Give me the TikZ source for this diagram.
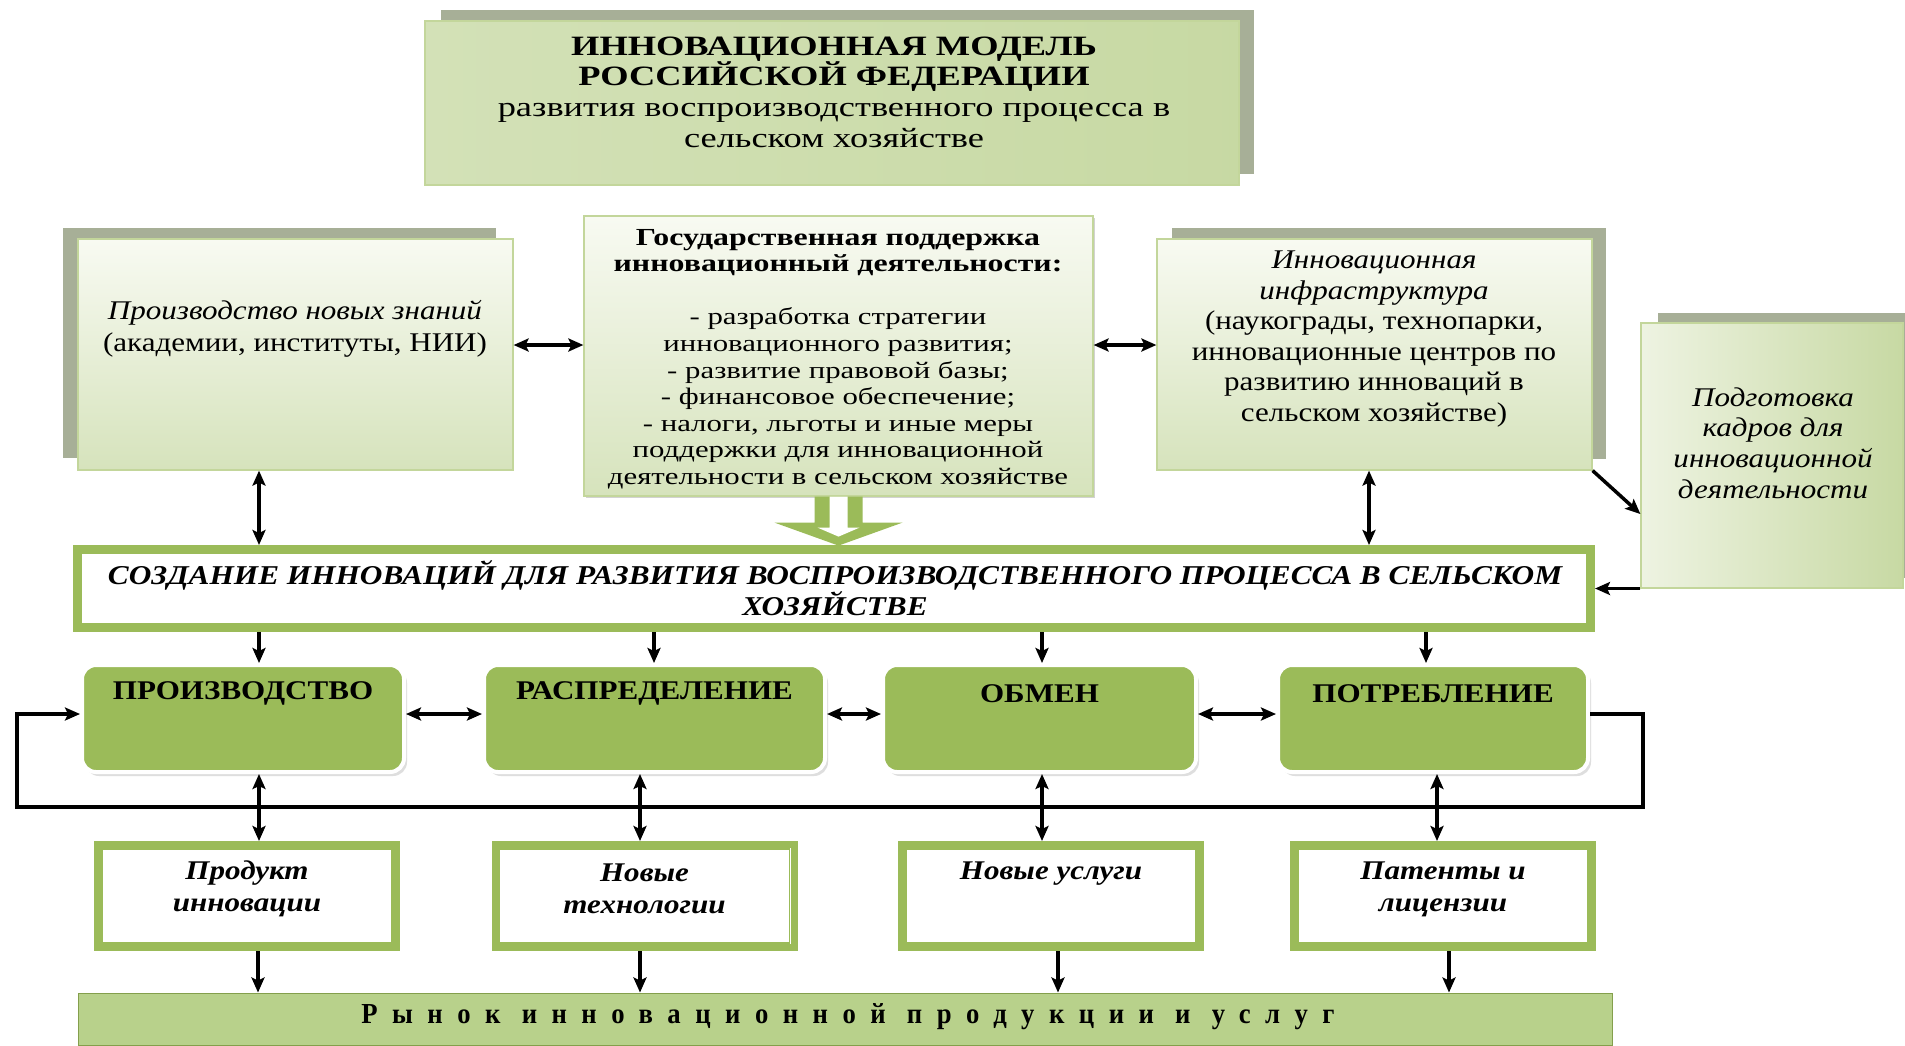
\documentclass[tikz,border=0pt]{standalone}
\usepackage{fontspec}
\setmainfont[FakeStretch=1.15]{Liberation Serif}
\newfontfamily\widefont[FakeStretch=1.3]{Liberation Serif}
\newfontfamily\narrowfont[FakeStretch=0.92]{Liberation Serif}
\usetikzlibrary{arrows.meta,shadows,calc}
\definecolor{gshadow}{HTML}{A7AF97}
\definecolor{gborder}{HTML}{C3D69B}
\definecolor{gmain}{HTML}{9BBB59}
\definecolor{glight}{HTML}{D6E3BC}
\definecolor{gpale}{HTML}{F8FAF2}
\definecolor{gbar}{HTML}{B8D18B}
\definecolor{gbardark}{HTML}{9DBC5C}
\begin{document}
\begin{tikzpicture}[x=1pt,y=-1pt,
  txt/.style={inner sep=0pt, align=center},
  tbox/.style={draw=gborder, line width=1.2pt, top color=gpale, bottom color=glight, inner sep=0pt},
  titlebox/.style={draw=gborder, line width=1.2pt, left color=glight!95!gmain, middle color=gpale!80!glight, right color=glight!75!gmain, inner sep=0pt},
  pbox/.style={draw=gborder, line width=1.2pt, left color=gpale!70!glight, right color=glight!75!gmain, inner sep=0pt},
  frame/.style={draw=gmain, line width=7pt, fill=white, inner sep=0pt},
  procbox/.style={fill=gmain, draw=white, line width=4pt, rounded corners=14pt, inner sep=0pt,
     drop shadow={shadow xshift=3pt, shadow yshift=-4pt, fill=black!25}},
  mbar/.style={draw=gmain!85!black, line width=1pt, top color=gbar, middle color=gbardark, bottom color=gbar, inner sep=0pt},
  arr/.style={line width=3.5pt, -{Stealth[length=15pt,width=13pt,inset=3pt]}},
  darr/.style={line width=3.5pt, {Stealth[length=15pt,width=13pt,inset=3pt]}-{Stealth[length=15pt,width=13pt,inset=3pt]}},
  ptitle/.style={txt, font=\bfseries\fontsize{27}{31}\selectfont},
  otxt/.style={txt, font=\bfseries\itshape\fontsize{27}{32}\selectfont}
]
\useasboundingbox (0,0) rectangle (1905,1045);
\fill[white] (0,0) rectangle (1905,1045);

% coordinates for vertical arrows
\coordinate (a1) at (259,0);
\coordinate (a2) at (654,0);
\coordinate (a3) at (1042,0);
\coordinate (a4) at (1426,0);
\coordinate (a5) at (1369,0);
\coordinate (b1) at (259,0);
\coordinate (b2) at (640,0);
\coordinate (b3) at (1042,0);
\coordinate (b4) at (1437,0);
\coordinate (c1) at (258,0);
\coordinate (c2) at (640,0);
\coordinate (c3) at (1058,0);
\coordinate (c4) at (1449,0);
\coordinate (lr) at (1643,807);
\coordinate (ll) at (17,807);

% title
\fill[gshadow] (441,10) rectangle (1254,174);
\node[titlebox, minimum width=814pt, minimum height=164pt] (tb) at (832,103) {};
\node[txt, font=\widefont\fontsize{28}{30.7}\selectfont] (tbt) at (834,92)
  {\textbf{ИННОВАЦИОННАЯ МОДЕЛЬ}\\\textbf{РОССИЙСКОЙ ФЕДЕРАЦИИ}\\развития воспроизводственного процесса в\\сельском хозяйстве};

% left box
\fill[gshadow] (63,228) rectangle (496,458);
\node[tbox, minimum width=435pt, minimum height=231pt] (lb) at (295.5,354.5) {};
\node[txt, font=\fontsize{27}{31.6}\selectfont] (lbt) at (295,329)
  {\textit{Производство новых знаний}\\(академии, институты, НИИ)};

% center box
\node[tbox, minimum width=509pt, minimum height=280pt,
  drop shadow={shadow xshift=2pt, shadow yshift=-2pt, fill=black!35}] (cb) at (838.5,356) {};
\node[txt, font=\widefont\fontsize{23.7}{26.6}\selectfont] (cbt) at (838,359)
  {{\fontsize{24.5}{26.6}\selectfont\textbf{Государственная поддержка}}\\{\fontsize{24.5}{26.6}\selectfont\textbf{инновационный деятельности:}}\\[26.6pt]
   - разработка стратегии\\инновационного развития;\\- развитие правовой базы;\\
   - финансовое обеспечение;\\- налоги, льготы и иные меры\\поддержки для инновационной\\
   деятельности в сельском хозяйстве};

% right box
\fill[gshadow] (1172,228) rectangle (1606,459);
\node[tbox, minimum width=435pt, minimum height=231pt] (rb) at (1374.5,354.5) {};
\node[txt, font=\fontsize{27}{30.6}\selectfont] (rbt) at (1374,339)
  {\textit{Инновационная}\\\textit{инфраструктура}\\(наукограды, технопарки,\\инновационные центров по\\развитию инноваций в\\сельском хозяйстве)};

% training box
\fill[gshadow] (1658,313) rectangle (1905,578);
\node[pbox, minimum width=262pt, minimum height=265pt] (pb) at (1772,455.5) {};
\node[txt, font=\itshape\fontsize{27}{30.7}\selectfont] (pbt) at (1773,443)
  {Подготовка\\кадров для\\инновационной\\деятельности};

% block arrow from the support box
\fill[gmain] ([xshift=-24pt]cb.south) -- ++(48,0) -- ++(0,26) -- ++(40,0) -- ++(-64,23) -- ++(-64,-23) -- ++(40,0) -- cycle;
\fill[white] ([xshift=-9pt]cb.south) -- ++(18,0) -- ++(0,31) -- ++(12,0) -- ++(-21,9) -- ++(-21,-9) -- ++(12,0) -- cycle;

% creation box
\node[frame, minimum width=1515pt, minimum height=80pt] (crea) at (834,588.5) {};
\draw[gmain, line width=1.5pt] ([shift={(8,8)}]crea.north west) rectangle ([shift={(-8,-8)}]crea.south east);
\node[txt, font=\bfseries\itshape\fontsize{27.2}{31}\selectfont] (creat) at (835,588)
  {СОЗДАНИЕ ИННОВАЦИЙ ДЛЯ РАЗВИТИЯ ВОСПРОИЗВОДСТВЕННОГО ПРОЦЕССА В СЕЛЬСКОМ\\ХОЗЯЙСТВЕ};

% process boxes
\node[procbox, minimum width=322pt, minimum height=107pt] (pr1) at (243,718.5) {};
\node[procbox, minimum width=341pt, minimum height=107pt] (pr2) at (654.5,718.5) {};
\node[procbox, minimum width=313pt, minimum height=107pt] (pr3) at (1039.5,718.5) {};
\node[procbox, minimum width=310pt, minimum height=107pt] (pr4) at (1433,718.5) {};
\node[ptitle] (pr1t) at ([yshift=25pt]pr1.center) {ПРОИЗВОДСТВО};
\node[ptitle] (pr2t) at ([yshift=25pt]pr2.center) {РАСПРЕДЕЛЕНИЕ};
\node[ptitle] (pr3t) at ([yshift=25pt]pr3.center) {ОБМЕН};
\node[ptitle] (pr4t) at ([yshift=25pt]pr4.center) {ПОТРЕБЛЕНИЕ};

% output boxes
\foreach \n/\cx in {1/247,2/644.5,3/1051,4/1443}{
  \node[frame, minimum width=299pt, minimum height=103pt] (out\n) at (\cx,896) {};
  \draw[gmain, line width=1.5pt] ([shift={(8,8)}]out\n.north west) rectangle ([shift={(-8,-8)}]out\n.south east);
}
\node[otxt] (o1t) at ([yshift=7pt]out1.center) {Продукт\\инновации};
\node[otxt] (o2t) at ([yshift=7pt]out2.center) {Новые\\технологии};
\node[otxt] (o3t) at ([yshift=22pt]out3.center) {Новые услуги};
\node[otxt] (o4t) at ([yshift=7pt]out4.center) {Патенты и\\лицензии};

% market bar
\node[mbar, minimum width=1534pt, minimum height=52pt] (mk) at (845,1019) {};
\node[txt, font=\narrowfont\bfseries\fontsize{29}{32}\selectfont\addfontfeature{LetterSpace=50}] (mkt) at (848,1017)
  {Рынок инновационной продукции и услуг};

% connectors
\draw[darr] ([yshift=9.5pt]lb.east) -- ([yshift=9.5pt]lb.east -| cb.west);
\draw[darr] ([yshift=9.5pt]rb.west -| cb.east) -- ([yshift=9.5pt]rb.west);
\draw[darr] (lb.south -| a1) -- (crea.north -| a1);
\draw[darr] (rb.south -| a5) -- (crea.north -| a5);
\draw[arr] (rb.south east) -- ([yshift=-58.5pt]pb.west);
\draw[arr] (pb.south west |- crea.east) -- (crea.east);
\draw[arr] (crea.south -| a1) -- (pr1.north -| a1);
\draw[arr] (crea.south -| a2) -- (pr2.north -| a2);
\draw[arr] (crea.south -| a3) -- (pr3.north -| a3);
\draw[arr] (crea.south -| a4) -- (pr4.north -| a4);
\draw[darr] ([yshift=4.5pt]pr1.east) -- ([yshift=4.5pt]pr2.west);
\draw[darr] ([yshift=4.5pt]pr2.east) -- ([yshift=4.5pt]pr3.west);
\draw[darr] ([yshift=4.5pt]pr3.east) -- ([yshift=4.5pt]pr4.west);
\draw[arr] ([yshift=4.5pt]pr4.east) -| (lr) -- (ll) |- ([yshift=4.5pt]pr1.west);
\draw[darr] (pr1.south -| b1) -- (out1.north -| b1);
\draw[darr] (pr2.south -| b2) -- (out2.north -| b2);
\draw[darr] (pr3.south -| b3) -- (out3.north -| b3);
\draw[darr] (pr4.south -| b4) -- (out4.north -| b4);
\draw[arr] (out1.south -| c1) -- (mk.north -| c1);
\draw[arr] (out2.south -| c2) -- (mk.north -| c2);
\draw[arr] (out3.south -| c3) -- (mk.north -| c3);
\draw[arr] (out4.south -| c4) -- (mk.north -| c4);
\end{tikzpicture}
\end{document}
